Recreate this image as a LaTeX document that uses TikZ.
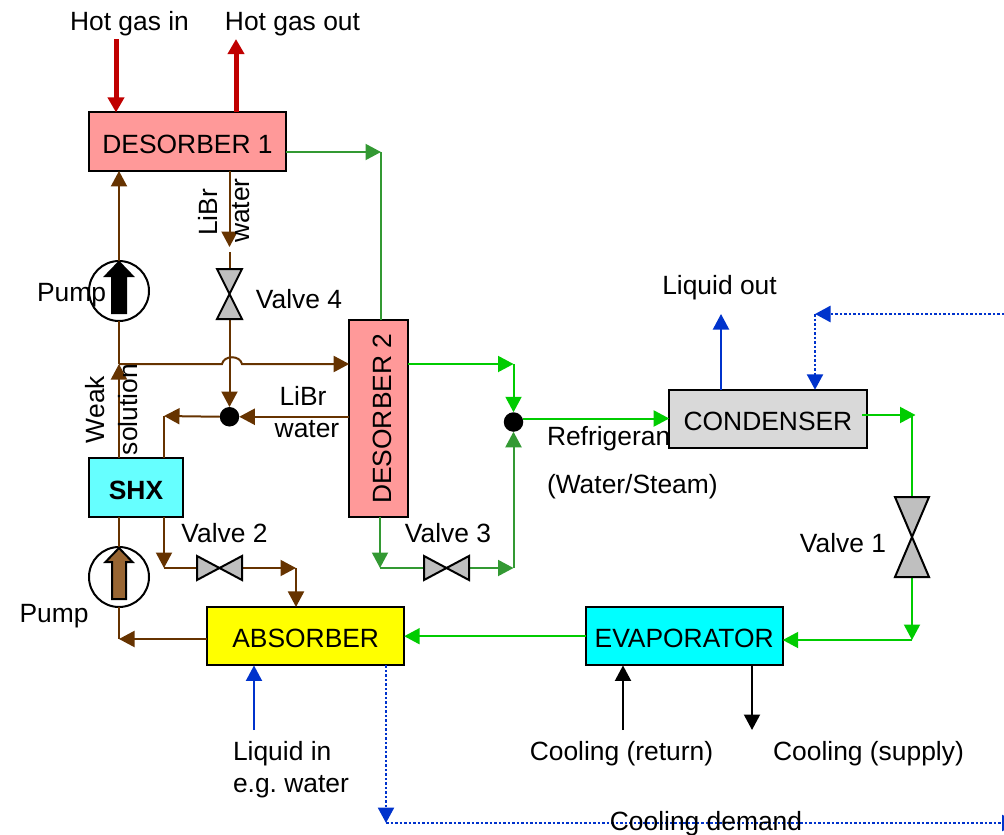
\documentclass[tikz,border=0pt]{standalone}
\usepackage{fontspec}
\setmainfont{Liberation Sans}
\usetikzlibrary{arrows.meta,positioning}
\definecolor{boxpink}{HTML}{FF9999}
\definecolor{boxcyan}{HTML}{00FFFF}
\definecolor{boxshx}{HTML}{66FFFF}
\definecolor{boxyellow}{HTML}{FFFF00}
\definecolor{boxgrey}{HTML}{D9D9D9}
\definecolor{valvegrey}{HTML}{BFBFBF}
\definecolor{flowbrown}{HTML}{663300}
\definecolor{pumpbrown}{HTML}{996633}
\definecolor{flowgreen}{HTML}{339933}
\definecolor{flowbright}{HTML}{00CC00}
\definecolor{flowblue}{HTML}{0033CC}
\definecolor{flowred}{HTML}{C00000}
\tikzset{
  every node/.append style={font=\fontsize{26.4}{30}\selectfont, outer sep=0pt, inner sep=0pt},
  unitbox/.style={draw, line width=2pt, minimum width=197pt, minimum height=58.5pt, text height=23pt, text depth=0pt},
  labeltext/.style={text height=21pt, text depth=5.5pt},
  valveshape/.style={draw, line width=2pt, fill=valvegrey, line join=miter},
  pumpring/.style={circle, draw, line width=2pt, minimum size=60pt},
  joindot/.style={circle, fill=black, minimum size=19.5pt},
  flowtip/.style={-{Triangle[length=15.5pt,width=16pt]}},
  brownline/.style={draw=flowbrown, line width=2pt},
  greenline/.style={draw=flowgreen, line width=2pt},
  brightline/.style={draw=flowbright, line width=2pt},
  blueline/.style={draw=flowblue, line width=2pt},
  dotline/.style={draw=flowblue, line width=2.5pt, dash pattern=on 2.5pt off 2pt},
  hotline/.style={draw=flowred, line width=5pt, -{Triangle[length=15pt,width=16pt]}},
  coldline/.style={draw=black, line width=2pt, flowtip}
}
\begin{document}
\begin{tikzpicture}[x=1pt, y=-1pt]
  \useasboundingbox (0,0) rectangle (1004,835);
  \clip (0,0) rectangle (1004,835);

  % units
  \node[labeltext, anchor=west] (refrigerant) at (547,438) {Refrigerant};
  \node[labeltext, anchor=west] (steam) at (547,486) {(Water/Steam)};
  \node[unitbox, fill=boxpink] (desorber1) at (187.5,141.7) {DESORBER 1};
  \node[unitbox, fill=boxshx, minimum width=94pt, below right=287.5pt and 0pt of desorber1.south west] (shx) {\textbf{SHX}};
  \node[unitbox, fill=boxpink, minimum width=59pt, minimum height=197pt, below right=149.3pt and 63.2pt of desorber1.south east] (desorber2) {};
  \node[unitbox, fill=boxyellow, below right=90pt and 24.2pt of shx.south east] (absorber) {ABSORBER};
  \node[unitbox, fill=boxcyan, right=181.5pt of absorber] (evaporator) {EVAPORATOR};
  \node[unitbox, fill=boxgrey, minimum width=197.5pt, above right=158.7pt and 83.5pt of evaporator.north west] (condenser) {CONDENSER};

  % valves, pumps, joints
  \node[minimum width=25pt, minimum height=50pt] (valve4) at (229.5,294) {};
  \node[minimum width=34pt, minimum height=80pt] (valve1) at (912,537) {};
  \node[minimum width=45pt, minimum height=24pt] (valve2) at (219.5,568) {};
  \node[minimum width=45pt, minimum height=24pt, right=182pt of valve2] (valve3) {};
  \node[pumpring] (pump1) at (119,291) {};
  \node[pumpring] (pump2) at (119,577) {};
  \node[joindot, below=88pt of valve4] (mixdot) {};
  \node[joindot] (steamdot) at (513.5,422) {};

  % free ends and corners
  \coordinate (hotin) at (116,39);
  \coordinate (hotout) at (236,39);
  \coordinate (d1corner) at (381,152);
  \coordinate (weaksplit) at (119,364);
  \coordinate (jumpstart) at (222,364);
  \coordinate (jumpleft) at (224,355);
  \coordinate (jumpright) at (240,355);
  \coordinate (jumpend) at (242,364);
  \coordinate (shxcorner) at (164,416);
  \coordinate (shxlow) at (164,568);
  \coordinate (abscorner) at (296,568);
  \coordinate (absreturn) at (119,639);
  \coordinate (libropen) at (229.5,247);
  \coordinate (d2corner) at (513.5,364);
  \coordinate (d2low) at (380,568);
  \coordinate (valve3end) at (513.5,568);
  \coordinate (steamout) at (523,418.5);
  \coordinate (condout) at (862,415);
  \coordinate (condtip) at (915.5,415);
  \coordinate (condcorner) at (912,415);
  \coordinate (evapcorner) at (912,640);
  \coordinate (liquidout) at (721,314);
  \coordinate (cyclecorner) at (815,314);
  \coordinate (rightedge) at (1004,314);
  \coordinate (liquidin) at (254,730);
  \coordinate (demandcorner) at (386,823);
  \coordinate (demandedge) at (1017.5,823);
  \coordinate (coolreturn) at (623,730);
  \coordinate (coolsupply) at (752,730);

  % hot gas
  \draw[hotline] (hotin) -- (hotin |- desorber1.north);
  \draw[hotline] (hotout |- desorber1.north) -- (hotout);

  % solution side
  \draw[brownline, flowtip] (weaksplit |- shx.north) -- (weaksplit);
  \draw[brownline] (weaksplit) -- (pump1.south);
  \draw[brownline, flowtip] (pump1.north) -- (pump1.north |- desorber1.south);
  \draw[brownline, flowtip] (weaksplit) -- (jumpstart) .. controls (jumpleft) and (jumpright) .. (jumpend) -- (weaksplit -| desorber2.west);
  \draw[brownline, flowtip] (libropen |- desorber1.south) -- (libropen);
  \draw[brownline] (valve4.north) -- ++(0,-17);
  \draw[brownline, flowtip] (valve4.south) -- (mixdot.north);
  \draw[brownline, flowtip] (mixdot -| desorber2.west) -- (mixdot.east);
  \draw[brownline, flowtip] (mixdot.west) -- (shxcorner);
  \draw[brownline] (shxcorner |- shx.north) -- (shxcorner);
  \draw[brownline, flowtip] (shxcorner |- shx.south) -- (shxlow);
  \draw[brownline] (shxlow) -- (valve2.west);
  \draw[brownline, flowtip] (valve2.east) -- (abscorner);
  \draw[brownline, flowtip] (abscorner) -- (abscorner |- absorber.north);
  \draw[brownline] (pump2.north |- shx.south) -- (pump2.north);
  \draw[brownline] (pump2.south) -- (absreturn);
  \draw[brownline, flowtip] (absreturn -| absorber.west) -- (absreturn);

  % refrigerant side
  \draw[greenline, flowtip] (d1corner -| desorber1.east) -- (d1corner);
  \draw[greenline] (d1corner) -- (d1corner |- desorber2.north);
  \draw[brightline, flowtip] (weaksplit -| desorber2.east) -- (d2corner);
  \draw[brightline, flowtip] (d2corner) -- (steamdot.north);
  \draw[greenline, flowtip] (d2low |- desorber2.south) -- (d2low);
  \draw[greenline] (d2low) -- (valve3.west);
  \draw[greenline, flowtip] (valve3.east) -- (valve3end);
  \draw[greenline, flowtip] (valve3end) -- (steamdot.south);
  \draw[brightline, flowtip] (steamout) -- (steamout -| condenser.west);
  \draw[brightline, flowtip] (condout) -- (condtip);
  \draw[brightline] (condcorner) -- (valve1.north);
  \draw[brightline, flowtip] (valve1.south) -- (evapcorner);
  \draw[brightline, flowtip] (evapcorner) -- (evapcorner -| evaporator.east);
  \draw[brightline, flowtip] (evaporator.west) -- (absorber.east);

  % coolant and chilled water
  \draw[blueline, flowtip] (liquidout |- condenser.north) -- (liquidout);
  \draw[dotline, flowtip] (rightedge) -- (cyclecorner);
  \draw[dotline, flowtip] (cyclecorner) -- (cyclecorner |- condenser.north);
  \draw[blueline, flowtip] (liquidin) -- (liquidin |- absorber.south);
  \draw[dotline, flowtip] (demandcorner |- absorber.south) -- (demandcorner);
  \draw[dotline, flowtip] (demandcorner) -- (demandedge);
  \draw[coldline] (coolreturn) -- (coolreturn |- evaporator.south);
  \draw[coldline] (coolsupply |- evaporator.south) -- (coolsupply);

  % valve and pump symbols
  \foreach \valvename in {valve1,valve4}
    \draw[valveshape] (\valvename.north west) -- (\valvename.north east) -- (\valvename.south west) -- (\valvename.south east) -- cycle;
  \foreach \valvename in {valve2,valve3}
    \draw[valveshape] (\valvename.north west) -- (\valvename.south east) -- (\valvename.north east) -- (\valvename.south west) -- cycle;
  \foreach \pumpname/\pumpfill in {pump1/black,pump2/pumpbrown}
    \draw[fill=\pumpfill, line width=2pt, shift={(\pumpname.center)}] (0,-29) -- (13.5,-15) -- (7,-15) -- (7,22) -- (-7,22) -- (-7,-15) -- (-13.5,-15) -- cycle;

  % labels
  \node[labeltext] (hotinlabel) at (129.5,23) {Hot gas in};
  \node[labeltext] (hotoutlabel) at (292.5,23) {Hot gas out};
  \node[labeltext, rotate=90] (librtop) at (209.5,212.5) {LiBr};
  \node[labeltext, rotate=90] (watertop) at (242,210.5) {water};
  \node[labeltext] (pumptop) at (71.5,294) {Pump};
  \node[labeltext] (valve4label) at (299,301) {Valve 4};
  \node[labeltext, rotate=90] (weaklabel) at (97,409.5) {Weak};
  \node[labeltext, rotate=90] (solutionlabel) at (130,409.5) {solution};
  \node[labeltext] (librlow) at (303,398) {LiBr};
  \node[labeltext] (waterlow) at (307,430) {water};
  \node[labeltext] (valve2label) at (224.5,535) {Valve 2};
  \node[labeltext] (pumplow) at (54,615) {Pump};
  \node[labeltext] (valve3label) at (448,535) {Valve 3};
  \node[labeltext, rotate=90] (desorber2label) at ([xshift=5pt]desorber2.center) {DESORBER 2};
  \node[labeltext] (liquidoutlabel) at (719.5,287) {Liquid out};
  \node[labeltext] (valve1label) at (843,545) {Valve 1};
  \node[labeltext, anchor=west] (liquidinlabel) at (233,753) {Liquid in};
  \node[labeltext, anchor=west] (waterinlabel) at (233,785) {e.g.\ water};
  \node[labeltext] (returnlabel) at (621.5,753) {Cooling (return)};
  \node[labeltext] (supplylabel) at (868.5,753) {Cooling (supply)};
  \node[labeltext] (demandlabel) at (706,823) {Cooling demand};
\end{tikzpicture}
\end{document}
